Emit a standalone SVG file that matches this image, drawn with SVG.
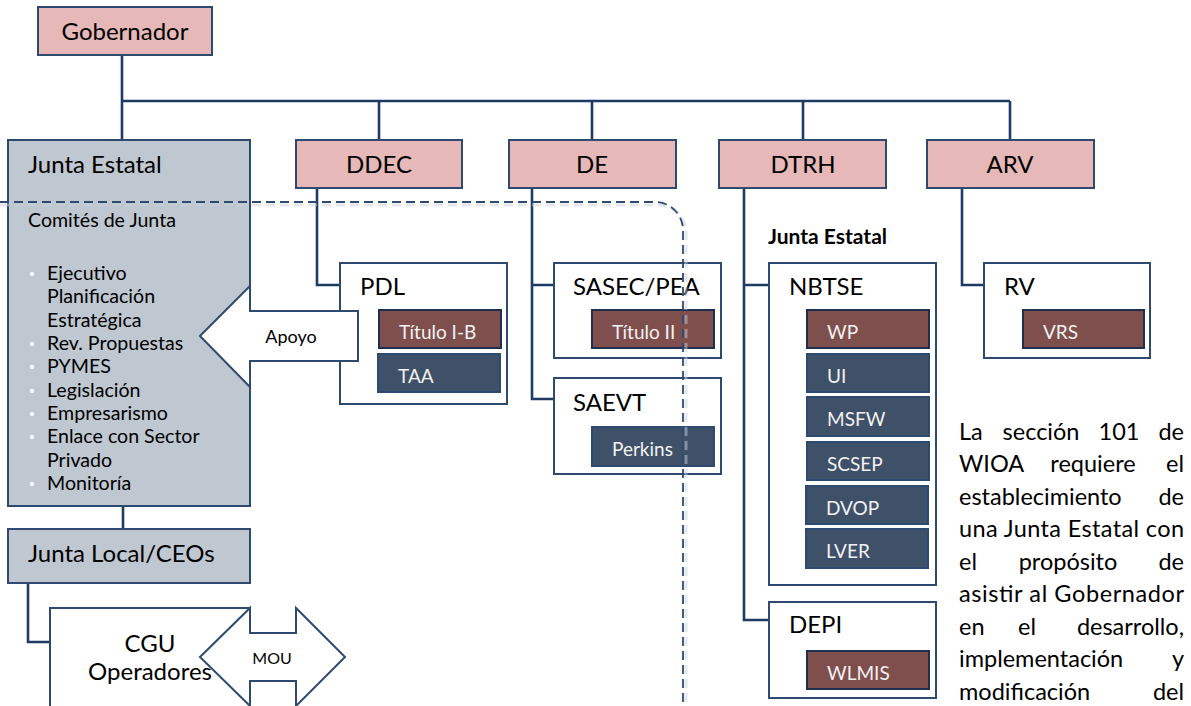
<svg xmlns="http://www.w3.org/2000/svg" width="1191" height="706" viewBox="0 0 1191 706">
<style>
text{font-family:Lato,"Liberation Sans",sans-serif;fill:#000}
.pink{fill:#E6B8B7;stroke:#2F4A70;stroke-width:2}
.gray{fill:#BFC7D1;stroke:#2F4A70;stroke-width:2}
.white{fill:#fff;stroke:#2F4A70;stroke-width:2}
.mar{fill:#7F4F4D;stroke:#1F2F4F;stroke-width:2}
.nav{fill:#3F5069;stroke:#2F4A70;stroke-width:2}
.t1{font-size:24px}
.tc{font-size:24px;text-anchor:middle}
.in{font-size:19px;fill:#F2F2F2}
.li{font-size:19.6px}
.par{font-size:23.5px}
.conn{fill:none;stroke:#1F3B64;stroke-width:2.6}
.bul{fill:#F2F4F7}
</style>

<g id="connectors" class="conn">
<path d="M122 55V140"/>
<path d="M122 101H1010"/>
<path d="M379 101V140M592 101V140M803 101V140M1010 101V140"/>
<path d="M317 188V285H340"/>
<path d="M532 188V399H554M532 285H554"/>
<path d="M744 188V620H769M744 285H769"/>
<path d="M962 188V285H984"/>
<path d="M123 506V529"/>
<path d="M28 583V642H50"/>
</g>

<g id="gobernador"><rect class="pink" x="38" y="7" width="174" height="48"/><text class="tc" x="125" y="40">Gobernador</text></g>

<g id="junta-estatal">
<rect class="gray" x="8" y="140" width="242" height="366"/>
<text class="t1" x="28" y="173">Junta Estatal</text>
<text class="li" x="28" y="227">Comités de Junta</text>
<g class="bul"><circle cx="32" cy="274" r="2.3"/><circle cx="32" cy="344" r="2.3"/><circle cx="32" cy="367" r="2.3"/><circle cx="32" cy="391" r="2.3"/><circle cx="32" cy="414" r="2.3"/><circle cx="32" cy="437" r="2.3"/><circle cx="32" cy="484" r="2.3"/></g>
<text class="li" x="47" y="280">Ejecutivo</text>
<text class="li" x="47" y="303">Planificación</text>
<text class="li" x="47" y="327">Estratégica</text>
<text class="li" x="47" y="350">Rev. Propuestas</text>
<text class="li" x="47" y="373">PYMES</text>
<text class="li" x="47" y="397">Legislación</text>
<text class="li" x="47" y="420">Empresarismo</text>
<text class="li" x="47" y="443">Enlace con Sector</text>
<text class="li" x="47" y="467">Privado</text>
<text class="li" x="47" y="490">Monitoría</text>
</g>

<g id="ddec"><rect class="pink" x="296" y="140" width="166" height="48"/><text class="tc" x="379" y="173">DDEC</text></g>
<g id="de"><rect class="pink" x="509" y="140" width="167" height="48"/><text class="tc" x="592" y="173">DE</text></g>
<g id="dtrh"><rect class="pink" x="719" y="140" width="167" height="48"/><text class="tc" x="803" y="173">DTRH</text></g>
<g id="arv"><rect class="pink" x="927" y="140" width="167" height="48"/><text class="tc" x="1010" y="173">ARV</text></g>

<g id="pdl">
<rect class="white" x="340" y="263" width="167" height="141"/>
<text class="t1" x="360" y="295">PDL</text>
<rect class="mar" x="379" y="310" width="122" height="38"/><text class="in" x="399" y="339">Título I-B</text>
<rect class="nav" x="378" y="354" width="122" height="38"/><text class="in" x="398" y="383">TAA</text>
</g>

<g id="sasec">
<rect class="white" x="554" y="263" width="167" height="95"/>
<text class="t1" x="573" y="295">SASEC/PEA</text>
<rect class="mar" x="592" y="310" width="122" height="38"/><text class="in" x="612" y="339">Título II</text>
</g>

<g id="saevt">
<rect class="white" x="554" y="378" width="167" height="96"/>
<text class="t1" x="573" y="411">SAEVT</text>
<rect class="nav" x="592" y="427" width="122" height="39"/><text class="in" x="612" y="456">Perkins</text>
</g>

<g id="junta-estatal-label"><text x="768" y="244" style="font-size:21px;font-weight:bold">Junta Estatal</text></g>

<g id="nbtse">
<rect class="white" x="769" y="263" width="167" height="322"/>
<text class="t1" x="789" y="295">NBTSE</text>
<rect class="mar" x="807" y="310" width="122" height="38"/><text class="in" x="827" y="339">WP</text>
<rect class="nav" x="807" y="354" width="122" height="38"/><text class="in" x="827" y="383">UI</text>
<rect class="nav" x="807" y="397" width="122" height="39"/><text class="in" x="827" y="426">MSFW</text>
<rect class="nav" x="807" y="442" width="122" height="38"/><text class="in" x="827" y="471">SCSEP</text>
<rect class="nav" x="806" y="486" width="122" height="38"/><text class="in" x="826" y="515">DVOP</text>
<rect class="nav" x="806" y="529" width="122" height="39"/><text class="in" x="826" y="558">LVER</text>
</g>

<g id="depi">
<rect class="white" x="769" y="602" width="167" height="96"/>
<text class="t1" x="789" y="633">DEPI</text>
<rect class="mar" x="807" y="651" width="122" height="38"/><text class="in" x="827" y="680">WLMIS</text>
</g>

<g id="rv">
<rect class="white" x="984" y="263" width="166" height="95"/>
<text class="t1" x="1004" y="295">RV</text>
<rect class="mar" x="1023" y="310" width="121" height="38"/><text class="in" x="1043" y="339">VRS</text>
</g>

<g id="junta-local">
<rect class="gray" x="8" y="529" width="242" height="54"/>
<text class="t1" x="28" y="562">Junta Local/CEOs</text>
</g>

<g id="cgu">
<rect class="white" x="50" y="608" width="200" height="120"/>
</g>

<g id="apoyo">
<polygon class="white" points="200,336 250,286 250,311 358,311 358,361 250,361 250,387"/>
<text x="291" y="343" style="font-size:18px;text-anchor:middle">Apoyo</text>
</g>

<g id="mou">
<polygon class="white" points="200,657 250,608 250,633 296,633 296,608 345,657 296,706 296,681 250,681 250,706"/>
<text x="272" y="664" style="font-size:16px;text-anchor:middle">MOU</text>
</g>

<g id="cgu-label">
<text class="tc" x="150" y="652">CGU</text>
<text class="tc" x="150" y="680">Operadores</text>
</g>

<g id="boundary">
<path d="M0 205H655A28 28 0 0 1 686 233V706" fill="none" stroke="#C9CFD8" stroke-opacity="0.5" stroke-width="3" stroke-dasharray="9 5"/>
<path d="M0 202H655A28 28 0 0 1 683 230V706" fill="none" stroke="#2F4A70" stroke-width="1.8" stroke-dasharray="9 5"/>
</g>

<g id="nota">
<text class="par" x="959" y="440">La</text><text class="par" x="1041" y="440" text-anchor="middle">sección</text><text class="par" x="1119" y="440" text-anchor="middle">101</text><text class="par" x="1184" y="440" text-anchor="end">de</text>
<text class="par" x="959" y="472">WIOA</text><text class="par" x="1093" y="472" text-anchor="middle">requiere</text><text class="par" x="1184" y="472" text-anchor="end">el</text>
<text class="par" x="959" y="505">establecimiento</text><text class="par" x="1184" y="505" text-anchor="end">de</text>
<text class="par" x="959" y="537" textLength="225" lengthAdjust="spacing">una Junta Estatal con</text>
<text class="par" x="959" y="570">el</text><text class="par" x="1068" y="570" text-anchor="middle">propósito</text><text class="par" x="1184" y="570" text-anchor="end">de</text>
<text class="par" x="959" y="602" textLength="225" lengthAdjust="spacing">asistir al Gobernador</text>
<text class="par" x="959" y="635">en</text><text class="par" x="1027" y="635" text-anchor="middle">el</text><text class="par" x="1184" y="635" text-anchor="end">desarrollo,</text>
<text class="par" x="959" y="667">implementación</text><text class="par" x="1184" y="667" text-anchor="end">y</text>
<text class="par" x="959" y="700">modificación</text><text class="par" x="1184" y="700" text-anchor="end">del</text>
</g>
</svg>
